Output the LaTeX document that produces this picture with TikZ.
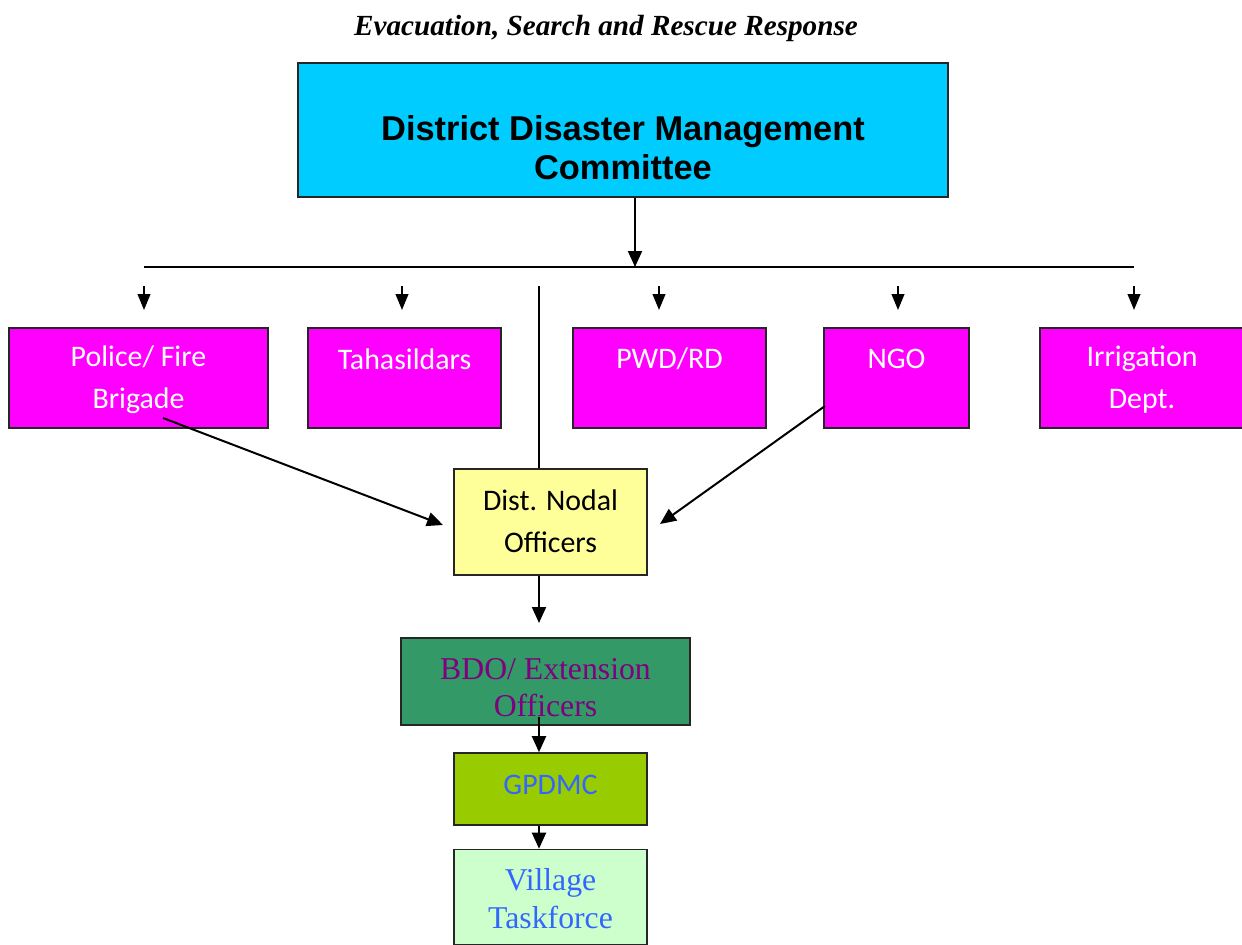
\documentclass[tikz,border=0pt]{standalone}
\usepackage{fontspec}
\setmainfont{Liberation Serif}
\newfontfamily\calfont{Carlito}
\newfontfamily\arialfont{Liberation Sans}
\usetikzlibrary{arrows.meta,calc}
\definecolor{ddcyan}{HTML}{00CCFF}
\definecolor{ddmag}{HTML}{FF00FF}
\definecolor{ddyel}{HTML}{FFFF99}
\definecolor{ddgreen}{HTML}{339966}
\definecolor{ddlime}{HTML}{99CC00}
\definecolor{ddpale}{HTML}{CCFFCC}
\definecolor{ddpurple}{HTML}{800080}
\definecolor{ddblue}{HTML}{3366FF}
\begin{document}
\begin{tikzpicture}[x={(0.75pt,0)},y={(0,-0.75pt)},
  boxbase/.style={draw=black!85,line width=1.2pt,inner sep=0pt,rectangle},
  magbox/.style={boxbase,fill=ddmag,minimum height=75pt},
  caltext/.style={font=\calfont\fontsize{22.4pt}{31.5pt}\selectfont,align=center,inner sep=0pt},
  whitetext/.style={caltext,text=white},
  arr/.style={line width=1.5pt,-{Triangle[length=12pt,width=9.5pt]}},
  bigarr/.style={line width=1.5pt,-{Triangle[length=12pt,width=10.5pt]}},
  plain/.style={line width=1.5pt}]
\useasboundingbox (0,0) rectangle (1242,945);
\fill[white] (0,0) rectangle (1242,945);

\node[font=\bfseries\itshape\fontsize{21.9pt}{26pt}\selectfont,inner sep=0pt] (title) at (606,28) {Evacuation, Search and Rescue Response};

\node[boxbase,fill=ddcyan,minimum width=487.5pt,minimum height=100.5pt] (ddmc) at (623,130) {};
\node[font=\arialfont\bfseries\fontsize{25.8pt}{29.25pt}\selectfont,align=center,inner sep=0pt] (ddmcT) at (623,148) {District Disaster Management\\Committee};

\node[magbox,minimum width=194.25pt] (police) at (138.5,378) {};
\node[magbox,minimum width=144.75pt] (tahas) at (404.5,378) {};
\node[magbox,minimum width=144.75pt] (pwd) at (669.5,378) {};
\node[magbox,minimum width=108.75pt] (ngo) at (896.5,378) {};
\node[magbox,minimum width=153.75pt] (irr) at (1142.5,378) {};
\node[whitetext] (policeT) at (138.5,380) {Police/ Fire\\Brigade};
\node[whitetext] (tahasT) at (404.5,359) {Tahasildars};
\node[whitetext] (pwdT) at (669.5,359) {PWD/RD};
\node[whitetext] (ngoT) at (896.5,359) {NGO};
\node[whitetext] (irrT) at (1142,380) {Irrigation\\Dept.};

\node[boxbase,fill=ddyel,minimum width=144.75pt,minimum height=79.5pt] (nodal) at (550.5,522) {};
\node[caltext] (nodalT) at (550.5,521) {Dist. Nodal\\Officers};

\node[boxbase,fill=ddgreen,minimum width=216.75pt,minimum height=65.25pt] (bdo) at (545.5,681.5) {};
\node[font=\fontsize{23.8pt}{27.75pt}\selectfont,text=ddpurple,align=center,inner sep=0pt] (bdoT) at (545.5,688) {BDO/ Extension\\Officers};

\node[boxbase,fill=ddlime,minimum width=144.75pt,minimum height=54pt] (gp) at (550.5,789) {};
\node[caltext,text=ddblue] (gpT) at (550.5,785) {GPDMC};

\node[boxbase,fill=ddpale,minimum width=144.75pt,minimum height=71.25pt] (vil) at (550.5,897) {};
\node[font=\fontsize{23.8pt}{28.5pt}\selectfont,text=ddblue,align=center,inner sep=0pt] (vilT) at (550.5,899) {Village\\Taskforce};

% bus
\coordinate (busL) at (144,267);
\coordinate (busR) at (1134,267);
\coordinate (busM) at (635,267);
\draw[plain] (busL) -- (busR);
\draw[bigarr] ($(ddmc.south)+(12,0)$) -- (busM);

\foreach \xx/\nm in {144/a,402/b,659/c,898/d,1134/e}{
  \coordinate (s\nm) at (\xx,286);
  \coordinate (t\nm) at (\xx,310);
  \draw[arr] (s\nm) -- (t\nm);
}
\coordinate (vtop) at (539,286);
\draw[plain] (vtop) -- (vtop |- nodal.north);

\coordinate (polA) at (163,418);
\coordinate (nodL) at (443,525);
\coordinate (ngoA) at (825,406);
\coordinate (nodR) at (660,524);
\draw[bigarr] (polA) -- (nodL);
\draw[bigarr] (ngoA) -- (nodR);

\draw[bigarr] (vtop |- nodal.south) -- (539,623);
\draw[bigarr] (539,717) -- (vtop |- gp.north);
\draw[bigarr] (vtop |- gp.south) -- (vtop |- vil.north);
\end{tikzpicture}
\end{document}
